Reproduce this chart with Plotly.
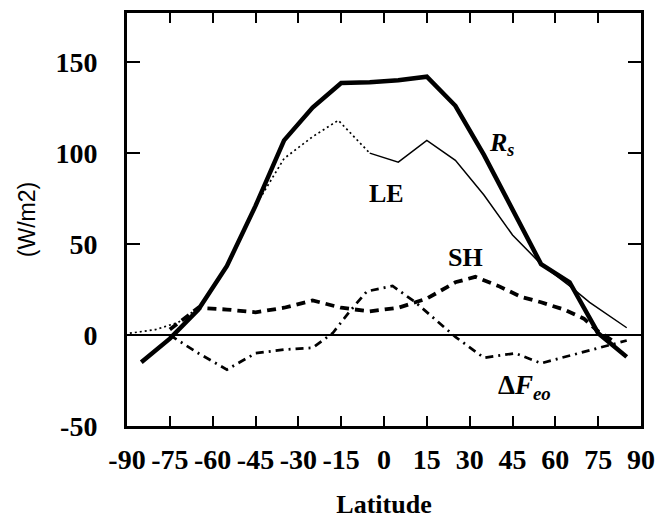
import plotly.graph_objects as go

# Zonal-mean surface energy terms (W/m2) versus latitude
rs_lat = [-85, -75, -65, -55, -45, -35, -25, -15, -5, 5, 15, 25, 35, 45, 55, 65, 75, 85]
rs_val = [-15, -2, 14, 38, 71, 107, 125, 138.5, 139, 140, 142, 126, 99, 69, 39, 29, 1, -12]

le_lat = [-89, -80, -72, -65, -55, -45, -35, -25, -16, -5, 5, 15, 25, 35, 45, 55, 65, 72, 85]
le_val = [1, 3, 7, 15, 38, 71, 97, 109, 118, 100, 95, 107, 96, 77, 55, 39, 27, 18, 4]

sh_lat = [-75, -65, -55, -45, -35, -25, -15, -5, 5, 15, 25, 32, 40, 48, 55, 63, 70, 75, 80]
sh_val = [3, 15, 14, 12.5, 15, 19, 15, 13, 15, 20, 29, 32, 27, 21, 18, 14, 9, 2, -3]

df_lat = [-75, -65, -55, -45, -35, -25, -18, -12, -6, 3, 11, 25, 35, 46, 55, 68, 77, 85]
df_val = [0, -10, -19, -10, -8, -7, 1, 13, 24, 27, 18, -1, -12.5, -10, -15.5, -10, -6, -3]

x_ticks = [-90, -75, -60, -45, -30, -15, 0, 15, 30, 45, 60, 75, 90]
y_ticks = [-50, 0, 50, 100, 150]

serif = "Liberation Serif"

fig = go.Figure()

# LE: dotted over the southern part, thin solid further north
split = le_lat.index(-5)
fig.add_trace(go.Scatter(x=le_lat[:split + 1], y=le_val[:split + 1], mode="lines",
                         line=dict(color="black", width=1.7, dash="2px,3px")))
fig.add_trace(go.Scatter(x=le_lat[split:], y=le_val[split:], mode="lines",
                         line=dict(color="black", width=1.5)))
fig.add_trace(go.Scatter(x=sh_lat, y=sh_val, mode="lines",
                         line=dict(color="black", width=3.8, dash="9px,6px")))
fig.add_trace(go.Scatter(x=df_lat, y=df_val, mode="lines",
                         line=dict(color="black", width=2.7, dash="8px,5px,2px,5px")))
fig.add_trace(go.Scatter(x=rs_lat, y=rs_val, mode="lines",
                         line=dict(color="black", width=4.5)))

label_font = dict(family=serif, size=26, color="black")
fig.add_annotation(x=41, y=105, text="<b><i>R</i></b><sub><b><i>s</i></b></sub>",
                   showarrow=False, font=label_font)
fig.add_annotation(x=0.7, y=77.7, text="<b>LE</b>", showarrow=False, font=label_font)
fig.add_annotation(x=28.7, y=42.5, text="<b>SH</b>", showarrow=False, font=label_font)
fig.add_annotation(x=49.3, y=-28.3, text="<b>Δ<i>F</i></b><sub><b><i>eo</i></b></sub>",
                   showarrow=False, font=dict(family=serif, size=27, color="black"))

fig.update_layout(
    width=664, height=520,
    margin=dict(l=127, r=23, t=13, b=94),
    paper_bgcolor="white", plot_bgcolor="white",
    showlegend=False,
    xaxis=dict(
        range=[-90, 90], tickvals=x_ticks, ticktext=[str(v) for v in x_ticks],
        ticks="inside", ticklen=10, tickwidth=2, tickcolor="black",
        showline=True, linewidth=3, linecolor="black", mirror="ticks",
        showgrid=False, zeroline=False, automargin=False,
        tickfont=dict(family=serif, size=28, color="black", weight="bold"),
        ticklabelstandoff=6,
        title=dict(text="<b>Latitude</b>", font=dict(family=serif, size=26, color="black"),
                   standoff=22),
    ),
    yaxis=dict(
        range=[-50, 177], tickvals=y_ticks, ticktext=[str(v) for v in y_ticks],
        ticks="inside", ticklen=13, tickwidth=2, tickcolor="black",
        showline=True, linewidth=3, linecolor="black", mirror="ticks",
        showgrid=False, zeroline=True, zerolinecolor="black", zerolinewidth=1.8,
        automargin=False,
        tickfont=dict(family=serif, size=28, color="black", weight="bold"),
        ticklabelstandoff=21,
        title=dict(text="(W/m2)", font=dict(family="Liberation Sans", size=23, color="black"),
                   standoff=14),
    ),
)

fig.write_html("out.html")
